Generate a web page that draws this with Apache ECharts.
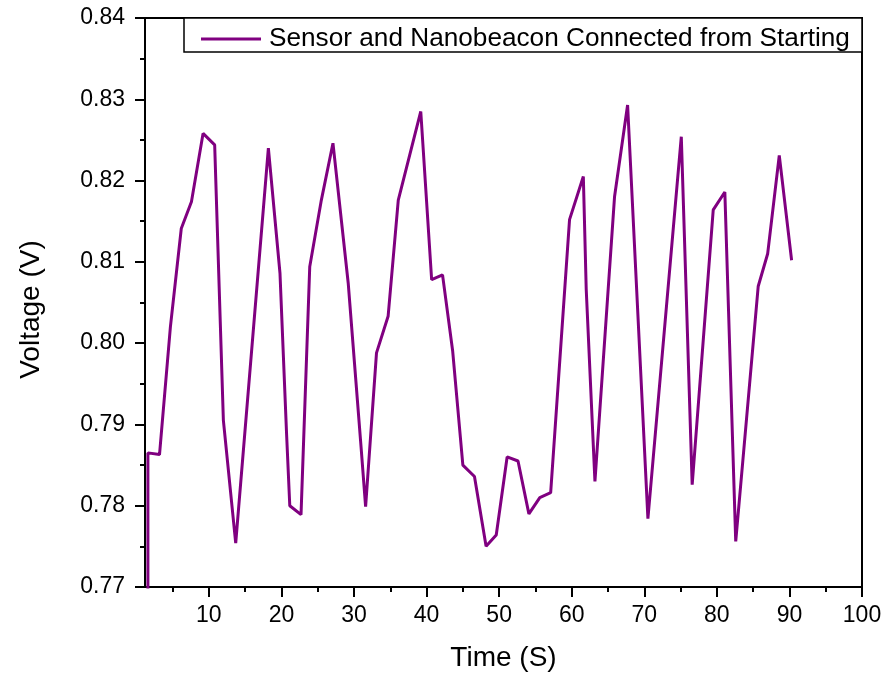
<!DOCTYPE html>
<html>
<head>
<meta charset="utf-8">
<script src="https://cdn.jsdelivr.net/npm/echarts@6/dist/echarts.min.js"></script>
<style>
  html, body { margin: 0; padding: 0; background: #fff; }
  #chart { width: 886px; height: 677px; }
</style>
</head>
<body>
<div id="chart"></div>
<script>
// Voltage trace, sensor and Nanobeacon connected from the start
const seriesName = 'Sensor and Nanobeacon Connected from Starting';
const timeS = [
  1.6, 1.6, 3.2, 4.7, 6.2, 7.6, 9.2, 10.8, 12.0, 13.7,
  18.2, 19.8, 20.7, 21.15, 22.7, 23.9, 25.5, 27.1, 29.2, 31.0,
  31.6, 33.1, 34.7, 36.1, 39.2, 40.7, 42.2, 43.6, 45.0, 46.6,
  48.2, 49.6, 51.1, 52.6, 54.1, 55.6, 57.1, 59.7, 61.6, 62.0,
  63.2, 65.9, 67.7, 70.5, 75.1, 76.6, 79.5, 81.1, 82.6, 85.7,
  87.0, 88.6, 90.3
];
const voltageV = [
  0.760, 0.7865, 0.7863, 0.8020, 0.8141, 0.8174, 0.8258, 0.8244, 0.7905, 0.7754,
  0.8240, 0.8086, 0.7890, 0.7800, 0.7789, 0.8094, 0.8176, 0.8246, 0.8074, 0.7869,
  0.7799, 0.7988, 0.8033, 0.8176, 0.8285, 0.8078, 0.8084, 0.7990, 0.7850, 0.7836,
  0.7750, 0.7764, 0.7860, 0.7855, 0.7790, 0.7810, 0.7816, 0.8152, 0.8205, 0.8066,
  0.7830, 0.8180, 0.8293, 0.7784, 0.8254, 0.7826, 0.8164, 0.8186, 0.7756, 0.8070,
  0.8110, 0.8231, 0.8102
];

// Axis tick positions
const xMajorTicks = [10, 20, 30, 40, 50, 60, 70, 80, 90, 100];
const xMinorTicks = [5, 15, 25, 35, 45, 55, 65, 75, 85, 95];
const yMajorTicks = [0.77, 0.78, 0.79, 0.80, 0.81, 0.82, 0.83, 0.84];
const yMinorTicks = [0.775, 0.785, 0.795, 0.805, 0.815, 0.825, 0.835];

const xRange = [1.2, 100];
const yRange = [0.77, 0.84];

const font = 'Arial, "Liberation Sans", sans-serif';
const ink = '#000';
const lineColor = '#800080';

const chart = echarts.init(document.getElementById('chart'), null, { renderer: 'canvas' });

const axisLineStyle = { color: ink, width: 2 };

chart.setOption({
  animation: false,
  grid: {
    left: 145, right: 24, top: 18, bottom: 90,
    show: true, borderColor: ink, borderWidth: 2, backgroundColor: 'transparent'
  },
  xAxis: [
    {
      type: 'value', min: xRange[0], max: xRange[1],
      axisLine: { show: true, onZero: false, lineStyle: axisLineStyle },
      axisTick: { show: true, customValues: xMajorTicks, length: 10, lineStyle: axisLineStyle },
      axisLabel: { customValues: xMajorTicks, fontSize: 23, color: ink, fontFamily: font, margin: 17 },
      splitLine: { show: false },
      name: 'Time (S)', nameLocation: 'middle', nameGap: 57,
      nameTextStyle: { fontSize: 28, color: ink, fontFamily: font }
    },
    {
      type: 'value', min: xRange[0], max: xRange[1], position: 'bottom',
      axisLine: { show: false, onZero: false },
      axisTick: { show: true, customValues: xMinorTicks, length: 5, lineStyle: axisLineStyle },
      axisLabel: { show: false },
      splitLine: { show: false }
    }
  ],
  yAxis: [
    {
      type: 'value', min: yRange[0], max: yRange[1],
      axisLine: { show: true, onZero: false, lineStyle: axisLineStyle },
      axisTick: { show: true, customValues: yMajorTicks, length: 10, lineStyle: axisLineStyle },
      axisLabel: {
        customValues: yMajorTicks, fontSize: 23, color: ink, fontFamily: font, margin: 20,
        formatter: v => v.toFixed(2)
      },
      splitLine: { show: false },
      name: 'Voltage (V)', nameLocation: 'middle', nameGap: 100, nameRotate: 90,
      nameTextStyle: { fontSize: 28, color: ink, fontFamily: font, padding: [0, 14, 0, 0] }
    },
    {
      type: 'value', min: yRange[0], max: yRange[1], position: 'left',
      axisLine: { show: false, onZero: false },
      axisTick: { show: true, customValues: yMinorTicks, length: 5, lineStyle: axisLineStyle },
      axisLabel: { show: false },
      splitLine: { show: false }
    }
  ],
  legend: {
    left: 196, top: 21,
    itemWidth: 60, itemHeight: 3,
    textStyle: { fontSize: 26.2, color: ink, fontFamily: font, padding: [0, 0, 0, 3] },
    data: [{ name: seriesName, icon: 'rect' }]
  },
  graphic: [
    {
      type: 'rect', z: 0,
      shape: { x: 184, y: 18, width: 678, height: 34 },
      style: { fill: '#fff', stroke: ink, lineWidth: 1.5 }
    }
  ],
  series: [
    {
      name: seriesName, type: 'line',
      xAxisIndex: 0, yAxisIndex: 0,
      data: timeS.map((t, i) => [t, voltageV[i]]),
      symbol: 'none', clip: true,
      lineStyle: { color: lineColor, width: 3 },
      itemStyle: { color: lineColor }
    }
  ]
});
</script>
</body>
</html>
